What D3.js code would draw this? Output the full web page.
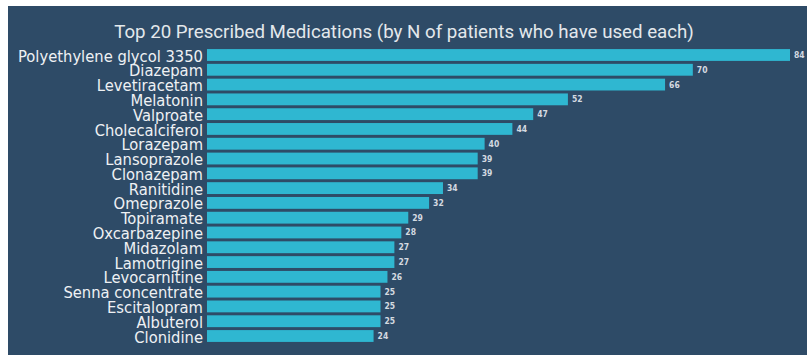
<!DOCTYPE html>
<html>
<head>
<meta charset="utf-8">
<script src="https://cdn.jsdelivr.net/npm/d3@7"></script>
<style>
  html, body { margin: 0; padding: 0; background: #ffffff; }
  svg { display: block; }
</style>
</head>
<body>
<svg id="chart" width="807" height="355"></svg>
<script>
// Top 20 prescribed medications, counted by number of patients
const medications = [
  "Polyethylene glycol 3350", "Diazepam", "Levetiracetam", "Melatonin", "Valproate",
  "Cholecalciferol", "Lorazepam", "Lansoprazole", "Clonazepam", "Ranitidine",
  "Omeprazole", "Topiramate", "Oxcarbazepine", "Midazolam", "Lamotrigine",
  "Levocarnitine", "Senna concentrate", "Escitalopram", "Albuterol", "Clonidine"
];
const patientCounts = [84, 70, 66, 52, 47, 44, 40, 39, 39, 34, 32, 29, 28, 27, 27, 26, 25, 25, 25, 24];
const chartTitle = "Top 20 Prescribed Medications (by N of patients who have used each)";

const data = medications.map((name, i) => ({ name, n: patientCounts[i] }));

const svg = d3.select("#chart");
const W = 807, H = 355;
const condensed = "'DejaVu Sans Condensed', 'DejaVu Sans', sans-serif";

// dark panel
svg.append("rect")
  .attr("x", 8).attr("y", 6)
  .attr("width", W - 8).attr("height", H - 6)
  .attr("fill", "#2e4b67");

const x = d3.scaleLinear().domain([0, 84]).range([207, 790]);
const y = d3.scaleBand().domain(medications).range([47.6, 343.4]).paddingInner(0.2).paddingOuter(0.1);

svg.append("text")
  .attr("x", 404).attr("y", 37.5)
  .attr("text-anchor", "middle")
  .attr("fill", "#e3e8ec")
  .style("font-family", "Roboto, 'Noto Sans', sans-serif")
  .style("font-size", "18.7px")
  .text(chartTitle);

// category axis on the left, labels only
const yAxis = svg.append("g")
  .attr("transform", "translate(207,0)")
  .call(d3.axisLeft(y).tickSize(0).tickPadding(4));
yAxis.select(".domain").remove();
yAxis.selectAll("text")
  .attr("fill", "#eef1f4")
  .attr("dy", "0.4em")
  .style("font-family", condensed)
  .style("font-size", "16.4px");

svg.append("g").selectAll("rect")
  .data(data)
  .join("rect")
  .attr("x", x(0))
  .attr("y", d => y(d.name))
  .attr("width", d => x(d.n) - x(0))
  .attr("height", y.bandwidth())
  .attr("fill", "#2fb7d1");

svg.append("g").selectAll("text")
  .data(data)
  .join("text")
  .attr("x", d => x(d.n) + 4)
  .attr("y", d => y(d.name) + y.bandwidth() / 2)
  .attr("dy", "0.35em")
  .attr("fill", "#d4dae1")
  .style("font-family", condensed)
  .style("font-size", "8.5px")
  .style("font-weight", "bold")
  .text(d => d.n);
</script>
</body>
</html>
